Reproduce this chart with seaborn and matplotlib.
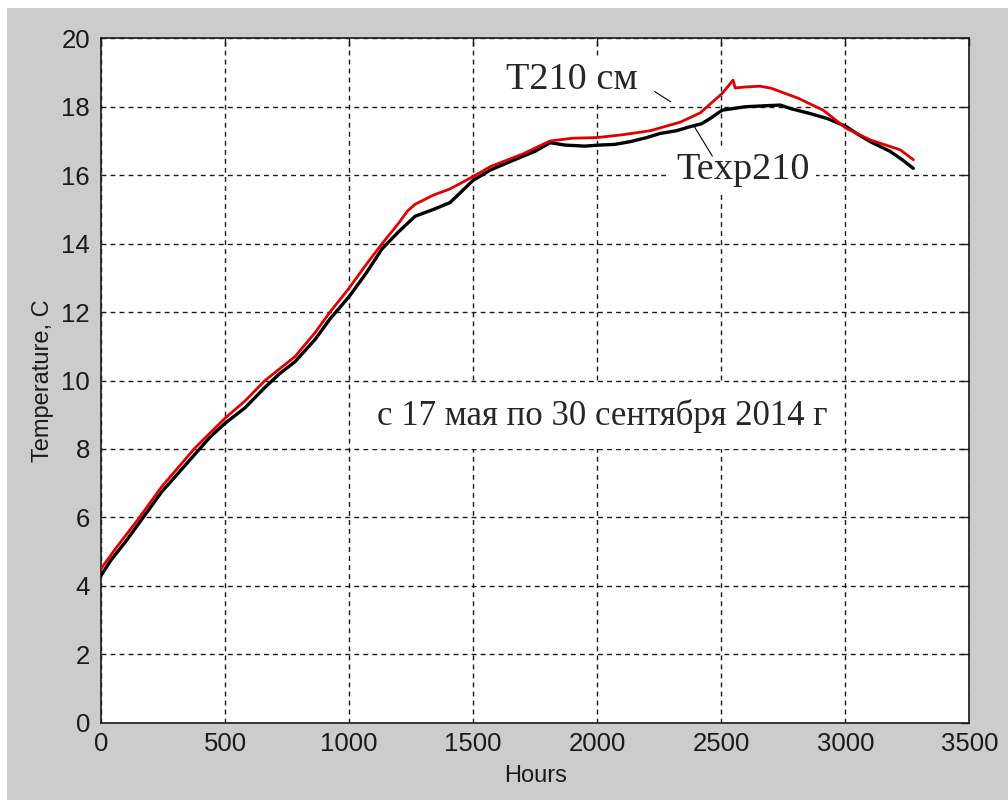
import matplotlib
matplotlib.use("Agg")
import matplotlib.pyplot as plt
from matplotlib.patches import Rectangle
import pandas as pd
import seaborn as sns

# Modelled temperature at 210 cm depth
hours_model = [0, 60, 150, 245, 379, 500, 580, 661, 782, 863, 923, 1000, 1070,
               1133, 1200, 1235, 1266, 1340, 1407, 1500, 1569, 1700, 1810, 1900,
               2000, 2100, 2214, 2335, 2415, 2504, 2548, 2556, 2600, 2657, 2702,
               2810, 2911, 3004, 3101, 3222, 3275]
temp_model = [4.5, 5.1, 5.95, 6.9, 8.03, 8.9, 9.4, 10.0, 10.7, 11.4, 12.0, 12.7,
              13.4, 14.0, 14.6, 14.95, 15.15, 15.42, 15.6, 15.96, 16.25, 16.62,
              17.0, 17.08, 17.1, 17.18, 17.3, 17.55, 17.82, 18.39, 18.78, 18.55,
              18.58, 18.6, 18.54, 18.25, 17.9, 17.37, 17.03, 16.74, 16.45]

# Measured temperature at 210 cm depth
hours_meas = [0, 40, 100, 150, 200, 245, 300, 379, 440, 500, 580, 661, 720, 782,
              863, 923, 1000, 1070, 1133, 1200, 1266, 1340, 1407, 1450, 1500,
              1569, 1650, 1750, 1810, 1871, 1950, 2008, 2070, 2133, 2200, 2254,
              2320, 2375, 2420, 2456, 2504, 2550, 2597, 2650, 2738, 2778, 2859,
              2930, 3004, 3050, 3101, 3180, 3230, 3274]
temp_meas = [4.3, 4.75, 5.3, 5.8, 6.3, 6.75, 7.2, 7.85, 8.35, 8.75, 9.2, 9.8,
             10.2, 10.55, 11.2, 11.8, 12.45, 13.15, 13.85, 14.35, 14.8, 15.0,
             15.2, 15.5, 15.85, 16.15, 16.4, 16.7, 16.95, 16.88, 16.85, 16.88,
             16.9, 16.98, 17.1, 17.22, 17.3, 17.42, 17.5, 17.66, 17.9, 17.95,
             18.0, 18.02, 18.05, 17.95, 17.8, 17.65, 17.42, 17.2, 16.98, 16.7,
             16.45, 16.2]

x_ticks = [0, 500, 1000, 1500, 2000, 2500, 3000, 3500]
y_ticks = [0, 2, 4, 6, 8, 10, 12, 14, 16, 18, 20]

sns.set_style("white")
plt.rcParams["font.family"] = ["Liberation Sans", "DejaVu Sans"]

fig = plt.figure(figsize=(10.08, 8.0), dpi=100)
fig.patch.set_facecolor("white")
fig.add_artist(Rectangle((7 / 1008, 0), 1, 1 - 8 / 800, transform=fig.transFigure,
                         facecolor="#cccccc", edgecolor="none", zorder=-10))

ax = fig.add_axes([0.1002, 0.0966, 0.8614, 0.8555])
ax.set_facecolor("white")

df_meas = pd.DataFrame({"Hours": hours_meas, "T": temp_meas})
df_model = pd.DataFrame({"Hours": hours_model, "T": temp_model})
sns.lineplot(data=df_meas, x="Hours", y="T", ax=ax, color="black", linewidth=2.4,
             zorder=3)
sns.lineplot(data=df_model, x="Hours", y="T", ax=ax, color="#e00000", linewidth=2.0,
             zorder=4)

ax.set_xlim(0, 3500)
ax.set_ylim(0, 20)
ax.set_xticks(x_ticks)
ax.set_yticks(y_ticks)
ax.set_xticklabels([str(v) for v in x_ticks])
ax.set_yticklabels([str(v) for v in y_ticks])

ax.grid(True, color="#1a1a1a", linestyle=(0, (3.5, 3.0)), linewidth=1.0)
ax.set_axisbelow(True)
for sp in ax.spines.values():
    sp.set_visible(True)
    sp.set_color("#1a1a1a")
    sp.set_linewidth(1.2)

ax.tick_params(axis="both", which="major", direction="in", length=6, width=1.0,
               top=True, right=True, labelsize=18.5, colors="#1a1a1a")
ax.tick_params(axis="y", pad=8)
ax.tick_params(axis="x", pad=7)

ax.set_xlabel("Hours", fontsize=17, color="#1a1a1a", labelpad=6)
ax.set_ylabel("Temperature, C", fontsize=17, color="#1a1a1a", labelpad=5)

serif = ["Liberation Serif", "DejaVu Serif"]
box = dict(facecolor="white", edgecolor="none", pad=5)

ax.text(1897, 18.78, "T210 см", family=serif, fontsize=27.5, ha="center",
        va="center", bbox=box, zorder=5)
ax.annotate("", xy=(2306, 18.1), xytext=(2222, 18.49),
            arrowprops=dict(arrowstyle="-", color="black", lw=0.8), zorder=6)

ax.text(2587, 16.15, "Texp210", family=serif, fontsize=27.5, ha="center",
        va="center", bbox=box, zorder=5)
ax.annotate("", xy=(2470, 16.49), xytext=(2383, 17.52),
            arrowprops=dict(arrowstyle="-", color="black", lw=0.8), zorder=6)

ax.text(2019, 8.95, "с 17 мая по 30 сентября 2014 г", family=serif, fontsize=25,
        ha="center", va="center", zorder=5,
        bbox=dict(facecolor="white", edgecolor="none", pad=11))

fig.savefig("out.png", dpi=100, facecolor=fig.get_facecolor())
